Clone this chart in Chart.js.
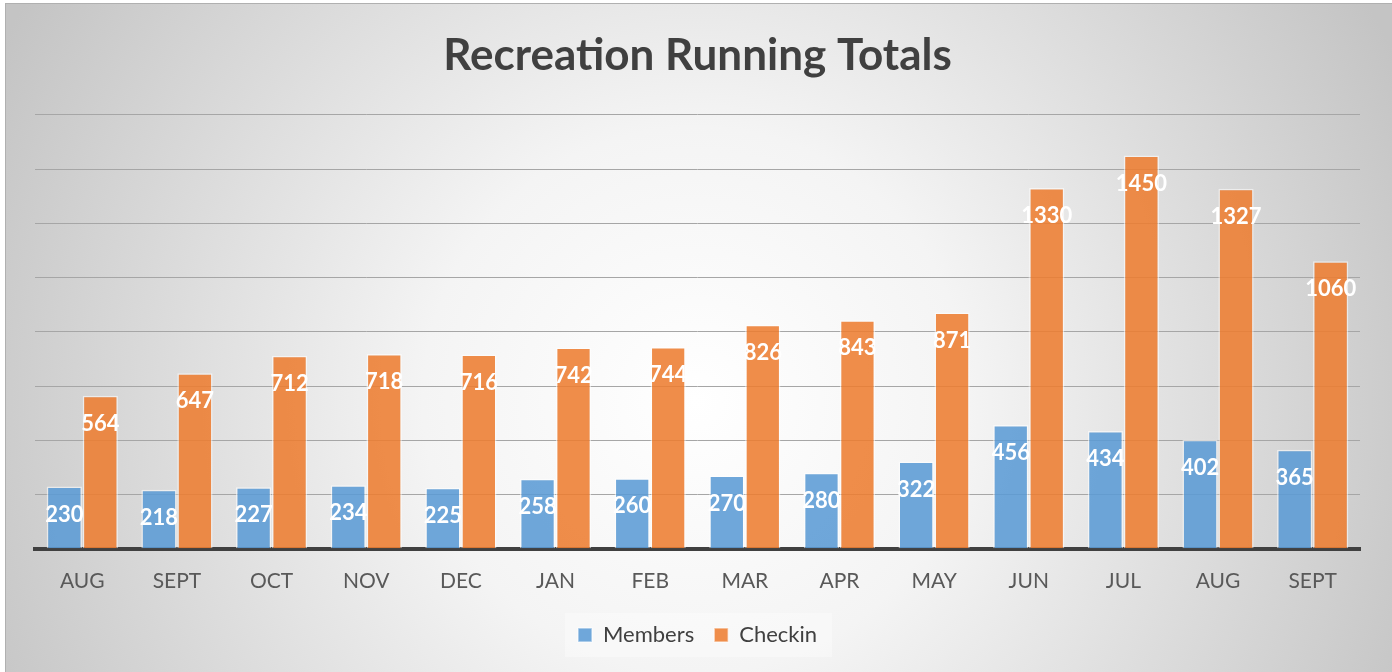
<!DOCTYPE html>
<html>
<head>
<meta charset="utf-8">
<script src="https://cdn.jsdelivr.net/npm/chart.js@4"></script>
<style>
html,body{margin:0;padding:0;background:#fff;}
#wrap{position:absolute;left:0;top:0;width:1392px;height:672px;}
</style>
</head>
<body>
<div id="wrap"><canvas id="c" width="1392" height="672"></canvas></div>
<script>
const categories = ['AUG','SEPT','OCT','NOV','DEC','JAN','FEB','MAR','APR','MAY','JUN','JUL','AUG','SEPT'];
const members = [230,218,227,234,225,258,260,270,280,322,456,434,402,365];
const checkin = [564,647,712,718,716,742,744,826,843,871,1330,1450,1327,1060];
const yTicks = [0,200,400,600,800,1000,1200,1400,1600];

const FONT = 'Lato, "Open Sans", "DejaVu Sans", sans-serif';

const bgPlugin = {
  id: 'bg',
  beforeDraw(chart) {
    const ctx = chart.ctx;
    const W = chart.width, H = chart.height;
    ctx.save();
    const g = ctx.createRadialGradient(696, 400, 0, 696, 400, 780);
    g.addColorStop(0, '#ffffff');
    g.addColorStop(0.35, '#f4f4f4');
    g.addColorStop(1, '#c4c4c4');
    ctx.fillStyle = g;
    ctx.fillRect(5, 3, W - 5, H - 3);
    ctx.strokeStyle = '#b0b0b0';
    ctx.lineWidth = 1;
    ctx.strokeRect(5.5, 3.5, W, H);
    const lg = chart.legend;
    if (lg && lg.width) {
      ctx.fillStyle = 'rgba(255,255,255,0.35)';
      ctx.fillRect(565, 613, 267, 44);
    }
    ctx.restore();
  }
};

const labelPlugin = {
  id: 'vals',
  afterDatasetsDraw(chart) {
    const ctx = chart.ctx;
    ctx.save();
    ctx.font = 'bold 22px ' + FONT;
    ctx.fillStyle = '#ffffff';
    ctx.textAlign = 'center';
    ctx.textBaseline = 'middle';
    chart.data.datasets.forEach((ds, i) => {
      const meta = chart.getDatasetMeta(i);
      meta.data.forEach((bar, j) => {
        ctx.fillText(String(ds.data[j]), bar.x, bar.y + 28);
      });
    });
    ctx.restore();
  }
};

new Chart(document.getElementById('c'), {
  type: 'bar',
  data: {
    labels: categories,
    datasets: [
      { label: 'Members', data: members, backgroundColor: 'rgba(91,155,213,0.88)', borderColor: 'rgba(255,255,255,0.55)', borderWidth: 1.5 },
      { label: 'Checkin', data: checkin, backgroundColor: 'rgba(237,125,49,0.88)', borderColor: 'rgba(255,255,255,0.55)', borderWidth: 1.5 }
    ]
  },
  options: {
    responsive: false,
    animation: false,
    devicePixelRatio: 1,
    layout: { padding: { left: 35, right: 32, top: 0, bottom: 16 } },
    datasets: { bar: { categoryPercentage: 0.76, barPercentage: 0.98 } },
    scales: {
      x: {
        grid: { display: false, drawTicks: false },
        border: { display: true, color: '#404040', width: 4 },
        ticks: { color: '#595959', font: { size: 21, family: FONT }, padding: 20 },
        afterFit(scale) { scale.height = scale.height - 10; }
      },
      y: {
        min: 0, max: 1600,
        afterBuildTicks(scale) { scale.ticks = yTicks.map(v => ({ value: v })); },
        ticks: { display: false },
        grid: { color: '#a6a6a6', lineWidth: 1, drawTicks: false },
        border: { display: false }
      }
    },
    plugins: {
      title: {
        display: true,
        text: 'Recreation Running Totals',
        color: '#404040',
        font: { size: 44, weight: 'bold', family: FONT },
        padding: { top: 29, bottom: 33 }
      },
      legend: {
        position: 'bottom',
        labels: {
          color: '#404040',
          font: { size: 22, family: FONT },
          boxWidth: 14, boxHeight: 14,
          padding: 20
        }
      },
      tooltip: { enabled: false }
    }
  },
  plugins: [bgPlugin, labelPlugin]
});
</script>
</body>
</html>
